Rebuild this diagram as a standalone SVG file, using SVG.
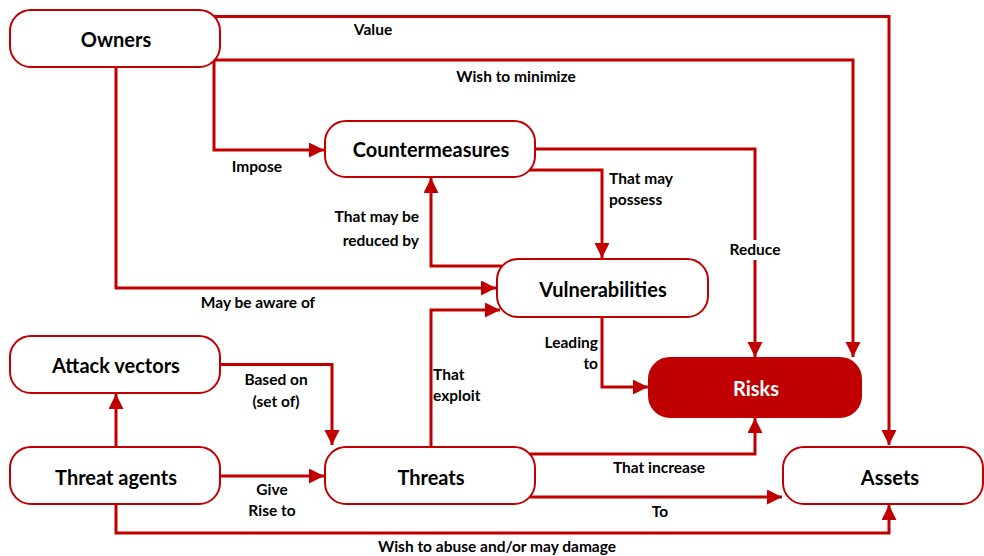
<svg xmlns="http://www.w3.org/2000/svg" width="984" height="556" viewBox="0 0 984 556">
<style>
.node{fill:#fff;stroke:#C00000;stroke-width:2}
.nodef{fill:#C00000;stroke:#C00000;stroke-width:2}
.t{font-family:Lato,"Open Sans","Liberation Sans",sans-serif;font-weight:bold;font-size:20px;fill:#000;text-anchor:middle;dominant-baseline:central}
.tw{fill:#fff}
.c{fill:none;stroke:#C00000;stroke-width:3;marker-end:url(#ah)}
.l{font-family:Lato,"Open Sans","Liberation Sans",sans-serif;font-weight:bold;font-size:15.5px;fill:#000}
.m{text-anchor:middle}
.e{text-anchor:end}
</style>
<defs>
<marker id="ah" markerUnits="userSpaceOnUse" markerWidth="16" markerHeight="16" refX="15" refY="7.5" orient="auto">
<path d="M0,0 L15,7.5 L0,15 z" fill="#C00000"/>
</marker>
</defs>
<g id="connectors">
<path class="c" d="M213,16.5 H889 V445"/>
<path class="c" d="M213,60 H853 V357"/>
<path class="c" d="M214,60 V150 H324"/>
<path class="c" d="M116,67 V288 H496"/>
<path class="c" d="M502,266 H431 V178"/>
<path class="c" d="M528,170 H602 V258"/>
<path class="c" d="M535,149 H755 V357"/>
<path class="c" d="M602,317 V387 H648"/>
<path class="c" d="M431,447 V310 H500"/>
<path class="c" d="M220,364.5 H332 V445"/>
<path class="c" d="M116,447 V394"/>
<path class="c" d="M220,476 H324"/>
<path class="c" d="M116,504 V533 H889 V505"/>
<path class="c" d="M530,454 H755 V418"/>
<path class="c" d="M530,497 H782"/>
<rect x="727" y="240" width="56" height="20" fill="#fff"/>
</g>
<g id="labels">
<text class="l m" x="373" y="35">Value</text>
<text class="l m" x="516" y="82">Wish to minimize</text>
<text class="l m" x="257" y="172">Impose</text>
<text class="l m" x="258" y="308">May be aware of</text>
<text class="l e" x="419" y="222">That may be</text>
<text class="l e" x="419" y="246">reduced by</text>
<text class="l" x="609" y="184">That may</text>
<text class="l" x="609" y="205">possess</text>
<text class="l m" x="755" y="255">Reduce</text>
<text class="l e" x="598" y="348">Leading</text>
<text class="l e" x="598" y="369">to</text>
<text class="l" x="433" y="380">That</text>
<text class="l" x="433" y="401">exploit</text>
<text class="l m" x="276" y="385">Based on</text>
<text class="l m" x="276" y="407">(set of)</text>
<text class="l m" x="272" y="495">Give</text>
<text class="l m" x="272" y="516">Rise to</text>
<text class="l m" x="659" y="473">That increase</text>
<text class="l m" x="660" y="517">To</text>
<text class="l m" x="497" y="552">Wish to abuse and/or may damage</text>
</g>
<g id="owners"><rect class="node" x="10" y="10" width="210" height="57" rx="21"/><text class="t" x="116" y="38.5">Owners</text></g>
<g id="countermeasures"><rect class="node" x="325" y="121" width="210" height="56" rx="21"/><text class="t" x="431" y="149">Countermeasures</text></g>
<g id="vulnerabilities"><rect class="node" x="497" y="259" width="211" height="58" rx="21"/><text class="t" x="603" y="289">Vulnerabilities</text></g>
<g id="risks"><rect class="nodef" x="649" y="358" width="212" height="59" rx="21"/><text class="t tw" x="756" y="388">Risks</text></g>
<g id="attack-vectors"><rect class="node" x="10" y="336" width="210" height="57" rx="21"/><text class="t" x="116" y="365">Attack vectors</text></g>
<g id="threat-agents"><rect class="node" x="10" y="447" width="210" height="57" rx="21"/><text class="t" x="116" y="477">Threat agents</text></g>
<g id="threats"><rect class="node" x="325" y="447" width="210" height="57" rx="21"/><text class="t" x="431" y="477">Threats</text></g>
<g id="assets"><rect class="node" x="783" y="447" width="200" height="57" rx="21"/><text class="t" x="890" y="477">Assets</text></g>
</svg>
